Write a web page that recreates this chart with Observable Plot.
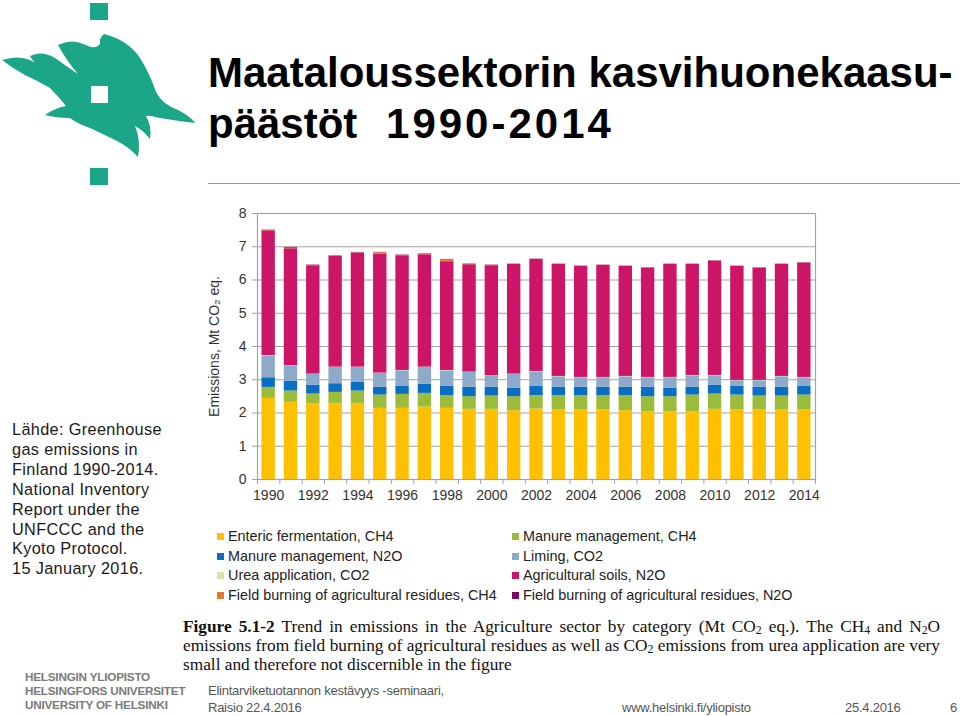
<!DOCTYPE html>
<html>
<head>
<meta charset="utf-8">
<script src="https://cdn.jsdelivr.net/npm/d3@7"></script>
<script src="https://cdn.jsdelivr.net/npm/@observablehq/plot@0.6"></script>
<style>
  html, body { margin: 0; padding: 0; background: #fff; }
  #slide { position: relative; width: 960px; height: 716px; overflow: hidden; font-family: "Liberation Sans", Arial, sans-serif; color: #111; }
  .abs { position: absolute; white-space: nowrap; }
  #title { left: 208px; top: 47px; font-size: 42px; font-weight: bold; line-height: 51px; letter-spacing: 0px; color: #000; }
  #title .l2 { word-spacing: 17px; }
  #title .yrs { letter-spacing: 3px; }
  #rule { left: 208px; top: 183px; width: 752px; height: 0; border-top: 1.5px solid #9a9a9a; }
  #source { left: 12px; top: 420px; font-size: 16.3px; line-height: 19.9px; color: #1a1a1a; letter-spacing: 0.35px; }
  #chart { left: 195px; top: 200px; }
  .leg { font-size: 14.4px; color: #222; line-height: 19.7px; }
  .leg span.sw { display: inline-block; width: 7px; height: 7px; margin-right: 4px; vertical-align: 1px; }
  .cap { left: 183px; width: 757px; font-family: "Liberation Serif", "Times New Roman", serif; font-size: 17.3px; line-height: 19.2px; color: #111; }
  .cap.j { text-align: justify; text-align-last: justify; }
  .cap sub { font-size: 0.68em; vertical-align: -0.15em; line-height: 0; }
  .foot { font-size: 13px; color: #555; letter-spacing: -0.25px; }
  .hy { font-size: 11.7px; font-weight: bold; color: #7a7a7a; line-height: 14px; letter-spacing: -0.2px; }
</style>
</head>
<body>
<div id="slide">
  <svg class="abs" style="left:0;top:0" width="200" height="190" viewBox="0 0 200 190">
    <rect x="90" y="3" width="18" height="17" fill="#1aa687"/>
    <rect x="90" y="168" width="18" height="17" fill="#1aa687"/>
    <path fill="#1aa687" d="M2,60 Q18,55 30,60 Q38,64 42,70 Q33,62 30,56 Q42,50 55,58 Q66,66 78,74 Q66,60 58,45 Q72,38 86,45 Q95,50 100,44 Q99,38 104,34 Q128,40 140,58 Q150,74 156,92 Q162,104 178,110 Q190,116 195,123 Q178,121 160,118 Q148,115 146,116 Q152,126 150,139 Q144,131 135,126 Q141,140 138,157 Q128,146 115,140 Q101,133 90,128 Q78,124 70,118 Q56,118 45,115 Q55,108 66,106 Q58,96 50,88 Q38,81 25,75 Q12,68 2,60 Z"/>
    <rect x="91" y="86" width="17" height="17" fill="#fff"/>
  </svg>
  <div id="title" class="abs">Maataloussektorin kasvihuonekaasu-<br><span class="l2">päästöt <span class="yrs">1990-2014</span></span></div>
  <div id="rule" class="abs"></div>
  <div id="source" class="abs">Lähde: Greenhouse<br>gas emissions in<br>Finland 1990-2014.<br>National Inventory<br>Report under the<br>UNFCCC and the<br>Kyoto Protocol.<br>15 January 2016.</div>
  <div id="chart" class="abs"></div>
  <div id="legend"></div>
  <div class="abs cap j" style="top:617px"><b>Figure 5.1-2</b> Trend in emissions in the Agriculture sector by category (Mt CO<sub>2</sub> eq.). The CH<sub>4</sub> and N<sub>2</sub>O</div>
  <div class="abs cap j" style="top:636px">emissions from field burning of agricultural residues as well as CO<sub>2</sub> emissions from urea application are very</div>
  <div class="abs cap" style="top:655px">small and therefore not discernible in the figure</div>
  <div class="abs hy" style="left:25px;top:670px">HELSINGIN YLIOPISTO<br>HELSINGFORS UNIVERSITET<br>UNIVERSITY OF HELSINKI</div>
  <div class="abs foot" style="left:208px;top:683px">Elintarviketuotannon kestävyys -seminaari,</div>
  <div class="abs foot" style="left:208px;top:700px">Raisio 22.4.2016</div>
  <div class="abs foot" style="left:622px;top:700px">www.helsinki.fi/yliopisto</div>
  <div class="abs foot" style="left:845px;top:700px">25.4.2016</div>
  <div class="abs foot" style="left:950px;top:700px">6</div>
</div>
<script>
// ---- data (Mt CO2 eq.) ----
const years = [1990,1991,1992,1993,1994,1995,1996,1997,1998,1999,2000,2001,2002,2003,2004,2005,2006,2007,2008,2009,2010,2011,2012,2013,2014];
const entericCH4 = [2.44,2.32,2.27,2.29,2.29,2.14,2.14,2.18,2.14,2.11,2.11,2.07,2.12,2.09,2.09,2.09,2.07,2.04,2.04,2.04,2.11,2.09,2.09,2.09,2.09];
const manureCH4 = [0.33,0.34,0.30,0.33,0.37,0.40,0.42,0.41,0.38,0.38,0.40,0.42,0.40,0.43,0.43,0.43,0.45,0.45,0.45,0.50,0.46,0.45,0.42,0.42,0.45];
const manureN2O = [0.29,0.30,0.27,0.26,0.26,0.23,0.25,0.28,0.29,0.28,0.26,0.25,0.29,0.25,0.25,0.25,0.25,0.28,0.25,0.23,0.27,0.27,0.26,0.26,0.27];
const limingCO2 = [0.66,0.45,0.32,0.49,0.45,0.42,0.46,0.50,0.46,0.45,0.34,0.42,0.43,0.32,0.29,0.29,0.32,0.29,0.32,0.35,0.28,0.16,0.20,0.32,0.25];
const ureaCO2 = [0.01,0.01,0.01,0.01,0.01,0.01,0.01,0.01,0.01,0.01,0.01,0.01,0.01,0.01,0.01,0.01,0.01,0.01,0.01,0.01,0.01,0.01,0.01,0.01,0.01];
const soilsN2O = [3.75,3.52,3.26,3.33,3.43,3.58,3.45,3.38,3.27,3.23,3.31,3.30,3.37,3.37,3.34,3.37,3.31,3.29,3.40,3.34,3.44,3.43,3.38,3.37,3.44];
const burningCH4 = [0.01,0.02,0.01,0.01,0.01,0.04,0.01,0.02,0.06,0.01,0.01,0.005,0.005,0.005,0.005,0.005,0.005,0.005,0.005,0.005,0.005,0.005,0.005,0.005,0.005];
const burningN2O = [0.01,0.02,0.01,0.01,0.01,0.01,0.01,0.01,0.01,0.01,0.01,0.005,0.005,0.005,0.005,0.005,0.005,0.005,0.005,0.005,0.005,0.005,0.005,0.005,0.005];

const categories = [
  "Enteric fermentation, CH4",
  "Manure management, CH4",
  "Manure management, N2O",
  "Liming, CO2",
  "Urea application, CO2",
  "Agricultural soils, N2O",
  "Field burning of agricultural residues, CH4",
  "Field burning of agricultural residues, N2O"
];
const seriesValues = [entericCH4, manureCH4, manureN2O, limingCO2, ureaCO2, soilsN2O, burningCH4, burningN2O];
const colors = ["#ffc000","#9bbb3b","#0a6fc2","#8eaacb","#d3e4a6","#cc1567","#e07b30","#7a0a63"];
const yTicks = [0,1,2,3,4,5,6,7,8];
const labelYears = [1990,1992,1994,1996,1998,2000,2002,2004,2006,2008,2010,2012,2014];
const yLabel = "Emissions, Mt CO₂ eq.";

// ---- build table ----
const rows = [];
years.forEach((yr, i) => categories.forEach((c, k) => rows.push({year: yr, cat: c, value: seriesValues[k][i]})));
const boundaries = [years[0] - 0.5, ...years.map(y => y + 0.5)];
const halfBar = 0.3;

const chart = Plot.plot({
  width: 630,
  height: 309,
  marginLeft: 62,
  marginRight: 10,
  marginTop: 13,
  marginBottom: 30,
  style: {fontFamily: "'Liberation Sans', Arial, sans-serif", fontSize: "14px", color: "#333", background: "transparent"},
  x: {domain: [years[0] - 0.5, years[years.length - 1] + 0.5]},
  y: {domain: [0, 8]},
  color: {domain: categories, range: colors},
  marks: [
    Plot.gridY(yTicks, {stroke: "#a3a3a3", strokeOpacity: 1, strokeWidth: 1.2}),
    Plot.rectY(rows, Plot.stackY({
      x: "year",
      x1: d => d.year - halfBar,
      x2: d => d.year + halfBar,
      y: "value",
      z: "cat",
      fill: "cat",
      order: categories
    })),
    Plot.frame({stroke: "#a3a3a3", strokeWidth: 1.2}),
    Plot.axisY({ticks: yTicks, tickSize: 5, tickPadding: 6, stroke: "#a3a3a3", fill: "#333",
      label: yLabel, labelAnchor: "center", labelOffset: 48, labelArrow: "none"}),
    Plot.axisX({ticks: boundaries, tickSize: 5, tickFormat: () => "", stroke: "#a3a3a3", label: null}),
    Plot.axisX({ticks: labelYears, tickSize: 0, tickPadding: 11, tickFormat: d => String(d), fill: "#333", label: null})
  ]
});
document.getElementById("chart").appendChild(chart);

// ---- legend ----
const legend = document.getElementById("legend");
const legCols = [217, 512];
const legTops = [527, 547, 566, 586];
categories.forEach((c, k) => {
  const div = document.createElement("div");
  div.className = "abs leg";
  div.style.left = legCols[k % 2] + "px";
  div.style.top = legTops[Math.floor(k / 2)] + "px";
  const sw = document.createElement("span");
  sw.className = "sw";
  sw.style.background = colors[k];
  div.appendChild(sw);
  div.appendChild(document.createTextNode(c));
  legend.appendChild(div);
});
</script>
</body>
</html>
